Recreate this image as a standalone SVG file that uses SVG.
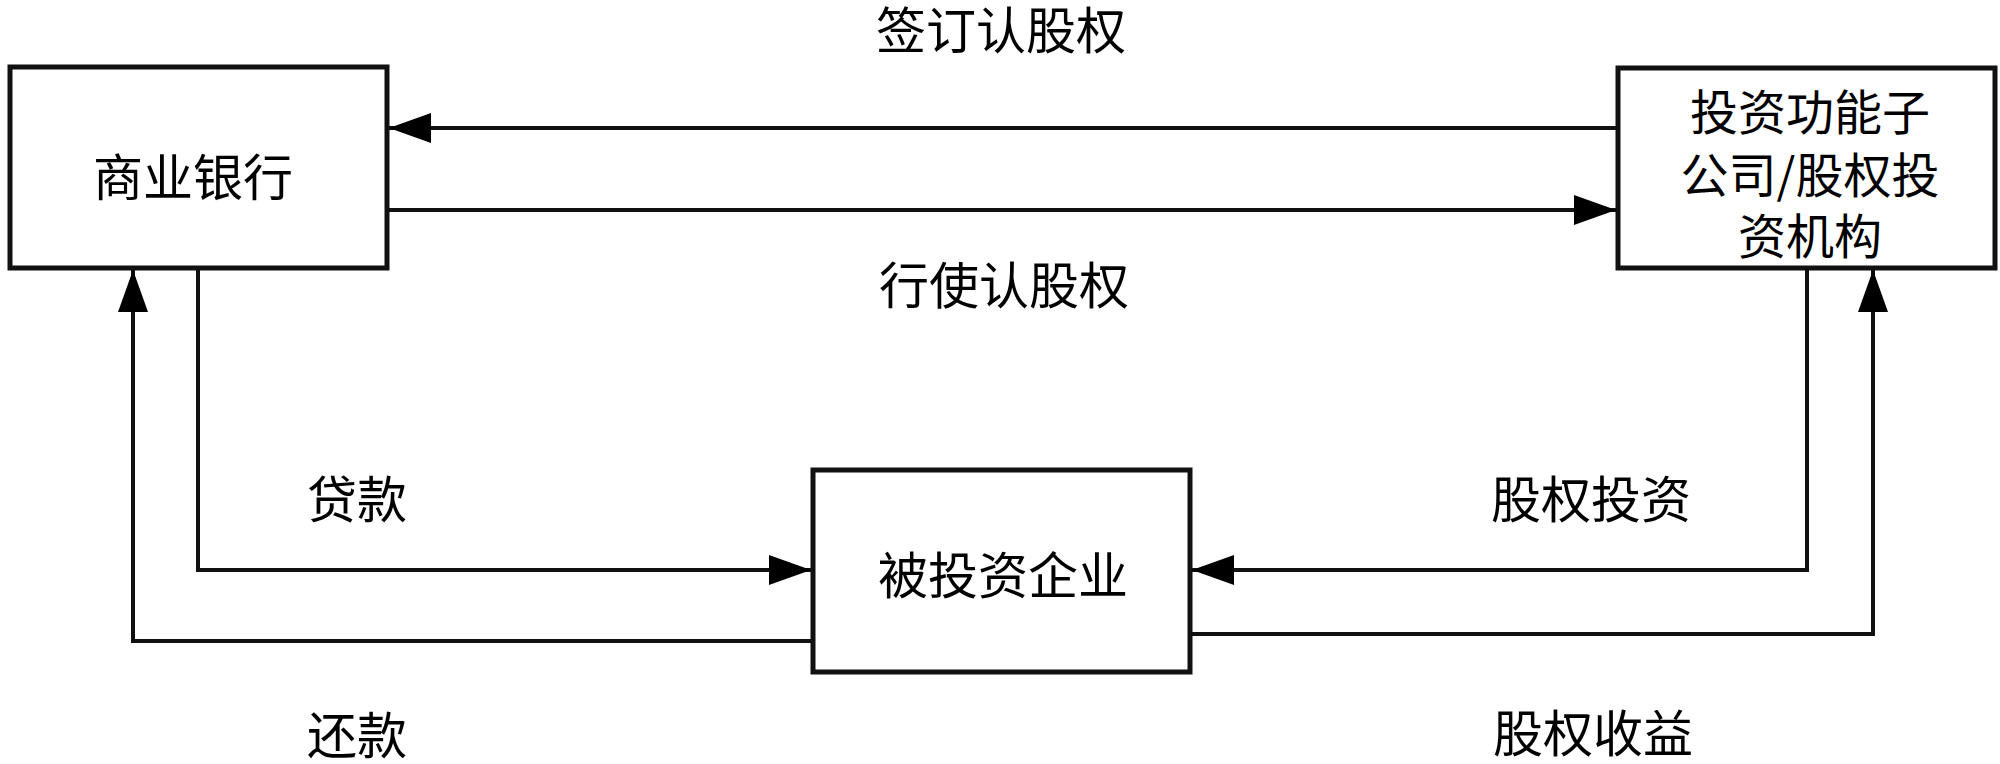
<svg xmlns="http://www.w3.org/2000/svg" width="2000" height="764" viewBox="0 0 2000 764">
<style>
.box{fill:#fff;stroke:#111;stroke-width:5}
.ln{fill:none;stroke:#111;stroke-width:4}
text{font-family:"Noto Sans CJK SC","Liberation Serif",serif;font-size:50px;fill:#000;text-anchor:middle}
.r{font-size:48px}
</style>
<defs>
<marker id="ah" markerUnits="userSpaceOnUse" markerWidth="44" markerHeight="34" refX="42" refY="17" orient="auto">
<path d="M0,2 L42,17 L0,32 z" fill="#000"/>
</marker>
</defs>
<rect width="2000" height="764" fill="#fff"/>
<g id="connectors">
<line class="ln" x1="1618" y1="128" x2="389" y2="128" marker-end="url(#ah)"/>
<line class="ln" x1="387" y1="210" x2="1616" y2="210" marker-end="url(#ah)"/>
<polyline class="ln" points="198,268 198,570 811,570" marker-end="url(#ah)"/>
<polyline class="ln" points="813,641 133,641 133,270" marker-end="url(#ah)"/>
<polyline class="ln" points="1807,268 1807,570 1192,570" marker-end="url(#ah)"/>
<polyline class="ln" points="1190,634 1873,634 1873,270" marker-end="url(#ah)"/>
</g>
<g id="labels">
<text x="1001" y="49">签订认股权</text>
<text x="1004" y="304">行使认股权</text>
<text x="357" y="518">贷款</text>
<text x="357" y="754">还款</text>
<text x="1591" y="518">股权投资</text>
<text x="1593" y="752">股权收益</text>
</g>
<g id="bank">
<rect class="box" x="10" y="67" width="377" height="201"/>
<text x="193" y="196">商业银行</text>
</g>
<g id="investor">
<rect class="box" x="1618" y="68" width="377" height="200"/>
<text class="r" x="1810" y="130">投资功能子</text>
<text class="r" x="1810" y="193">公司/股权投</text>
<text class="r" x="1810" y="254">资机构</text>
</g>
<g id="enterprise">
<rect class="box" x="813" y="470" width="377" height="202"/>
<text x="1003" y="594">被投资企业</text>
</g>
</svg>
